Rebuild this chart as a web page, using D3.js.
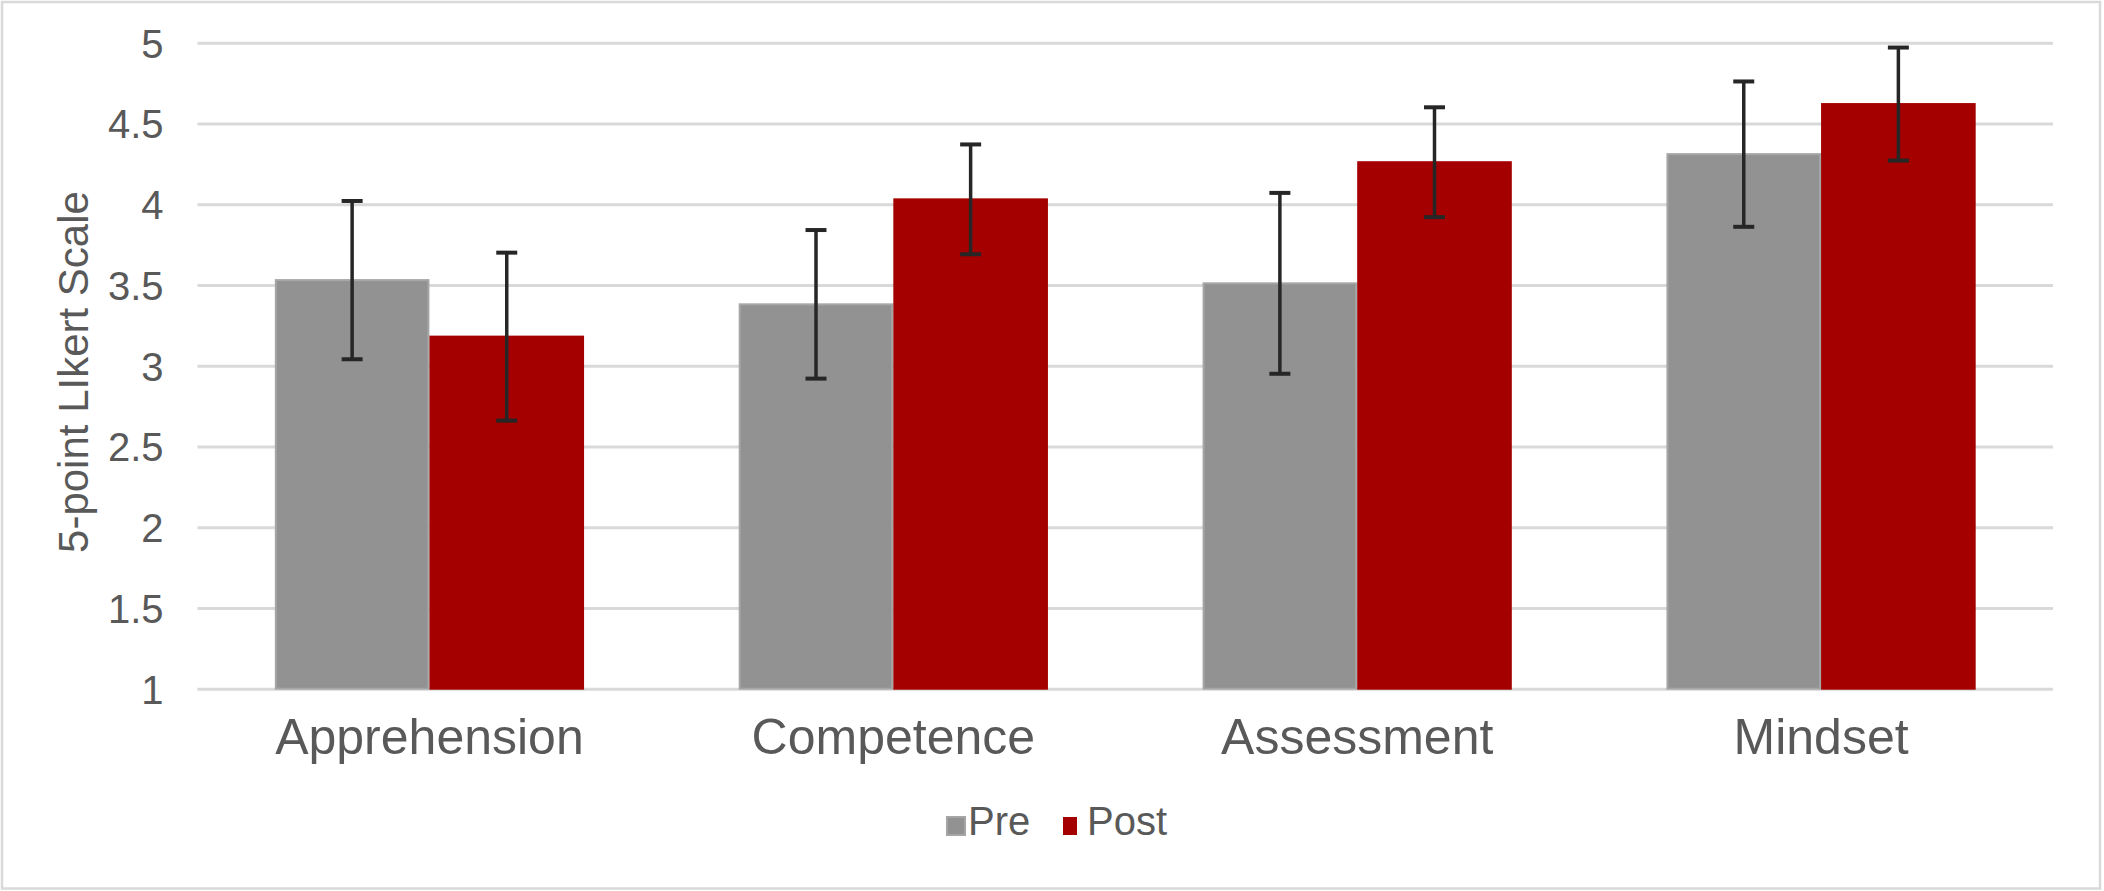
<!DOCTYPE html>
<html>
<head>
<meta charset="utf-8">
<script src="https://cdn.jsdelivr.net/npm/d3@7"></script>
<style>
  html, body { margin: 0; padding: 0; background: #ffffff; }
  svg { display: block; }
  text { font-family: "Liberation Sans", Arial, Helvetica, sans-serif; fill: #595959; }
</style>
</head>
<body>
<svg id="chart" width="2104" height="891"></svg>
<script>
// ---- Data ----
const categories = ["Apprehension", "Competence", "Assessment", "Mindset"];
const seriesNames = ["Pre", "Post"];
const preValues = [3.53, 3.38, 3.51, 4.31];
const postValues = [3.18, 4.03, 4.26, 4.62];
const preErrors = [0.49, 0.46, 0.56, 0.45];
const postErrors = [0.52, 0.34, 0.34, 0.35];
const yTicks = [1, 1.5, 2, 2.5, 3, 3.5, 4, 4.5, 5];
const yTitle = "5-point LIkert Scale";

const colors = { Pre: "#929292", Post: "#a40000" };
const strokes = { Pre: "#a6a6a6", Post: "#a40000" };

const rows = categories.map((c, i) => ({
  category: c,
  values: [
    { series: "Pre", value: preValues[i], err: preErrors[i] },
    { series: "Post", value: postValues[i], err: postErrors[i] }
  ]
}));

// ---- Layout ----
const W = 2104, H = 891;
const plotLeft = 197.5, plotRight = 2053, plotTop = 42.7, plotBottom = 688.7;

const svg = d3.select("#chart");

// outer frame
svg.append("rect")
  .attr("x", 2).attr("y", 2)
  .attr("width", W - 6).attr("height", H - 4.5)
  .attr("fill", "#ffffff")
  .attr("stroke", "#d9d9d9")
  .attr("stroke-width", 2.5);

const x = d3.scaleBand()
  .domain(categories)
  .range([plotLeft, plotRight])
  .paddingInner(1 / 3)
  .paddingOuter(1 / 6);

const xInner = d3.scaleBand()
  .domain(seriesNames)
  .range([0, x.bandwidth()])
  .padding(0);

const y = d3.scaleLinear()
  .domain([1, 5])
  .range([plotBottom, plotTop]);

// gridlines + y tick labels via axis
const yAxis = d3.axisLeft(y)
  .tickValues(yTicks)
  .tickSize(-(plotRight - plotLeft))
  .tickPadding(34)
  .tickFormat(d3.format("~g"));

const gy = svg.append("g")
  .attr("transform", `translate(${plotLeft},0)`)
  .call(yAxis);
gy.select(".domain").remove();
gy.selectAll(".tick line")
  .attr("stroke", "#d9d9d9")
  .attr("stroke-width", 3);
gy.selectAll(".tick text")
  .attr("fill", "#595959")
  .style("font-size", "40px")
  .attr("dy", "0.36em");

// bars
const groups = svg.append("g").selectAll("g")
  .data(rows)
  .join("g")
  .attr("transform", d => `translate(${x(d.category)},0)`);

groups.selectAll("rect")
  .data(d => d.values)
  .join("rect")
  .attr("x", d => xInner(d.series) + 1)
  .attr("y", d => y(d.value))
  .attr("width", xInner.bandwidth() - 2)
  .attr("height", d => y(1) - y(d.value))
  .attr("fill", d => colors[d.series])
  .attr("stroke", d => strokes[d.series])
  .attr("stroke-width", 2);

// error bars
const capW = 21;
const eb = groups.selectAll("g.err")
  .data(d => d.values)
  .join("g")
  .attr("class", "err")
  .attr("stroke", "#262626")
  .attr("stroke-width", 3.5);

eb.append("line")
  .attr("x1", d => xInner(d.series) + xInner.bandwidth() / 2)
  .attr("x2", d => xInner(d.series) + xInner.bandwidth() / 2)
  .attr("y1", d => y(d.value + d.err))
  .attr("y2", d => y(d.value - d.err));
eb.append("line")
  .attr("x1", d => xInner(d.series) + xInner.bandwidth() / 2 - capW / 2)
  .attr("x2", d => xInner(d.series) + xInner.bandwidth() / 2 + capW / 2)
  .attr("y1", d => y(d.value + d.err))
  .attr("y2", d => y(d.value + d.err))
  .attr("stroke-width", 4);
eb.append("line")
  .attr("x1", d => xInner(d.series) + xInner.bandwidth() / 2 - capW / 2)
  .attr("x2", d => xInner(d.series) + xInner.bandwidth() / 2 + capW / 2)
  .attr("y1", d => y(d.value - d.err))
  .attr("y2", d => y(d.value - d.err))
  .attr("stroke-width", 4);

// x axis labels
const xAxis = d3.axisBottom(x).tickSize(0).tickPadding(0);
const gx = svg.append("g")
  .attr("transform", `translate(0,${plotBottom})`)
  .call(xAxis);
gx.select(".domain").remove();
gx.selectAll(".tick text")
  .attr("fill", "#595959")
  .style("font-size", "50px")
  .attr("dy", null)
  .attr("y", 65);

// y-axis title
svg.append("text")
  .attr("transform", `translate(88,372) rotate(-90)`)
  .attr("text-anchor", "middle")
  .style("font-size", "42px")
  .text(yTitle);

// legend
const legendItems = [
  { name: "Pre", sx: 947, sw: 18, tx: 968 },
  { name: "Post", sx: 1063, sw: 14, tx: 1087 }
];
const lg = svg.append("g");
legendItems.forEach(it => {
  lg.append("rect")
    .attr("x", it.sx).attr("y", 817)
    .attr("width", it.sw).attr("height", 18)
    .attr("fill", colors[it.name])
    .attr("stroke", it.name === "Pre" ? strokes.Pre : "none")
    .attr("stroke-width", 2);
  lg.append("text")
    .attr("x", it.tx).attr("y", 835)
    .style("font-size", "40px")
    .text(it.name);
});
</script>
</body>
</html>
